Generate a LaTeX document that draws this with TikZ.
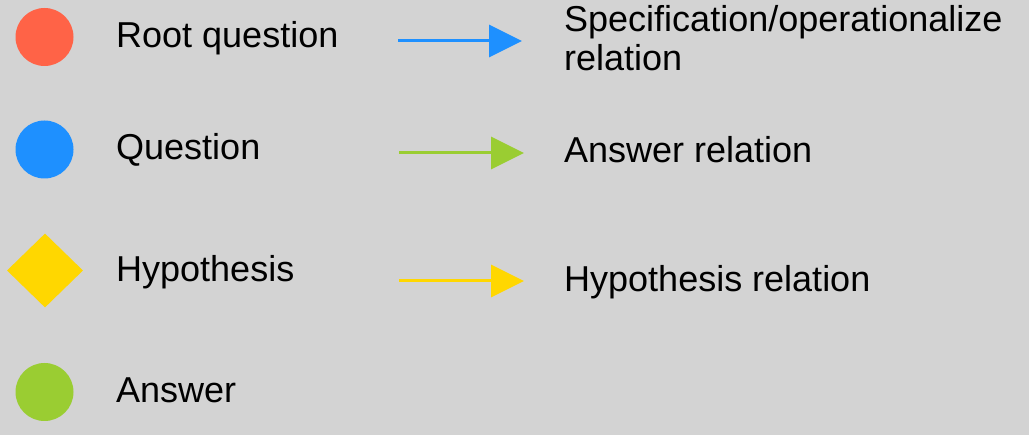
\documentclass[tikz,border=0pt]{standalone}
\usepackage{fontspec}
\setmainfont{Liberation Sans}
\usetikzlibrary{shapes.geometric,arrows.meta}
\definecolor{bg}{HTML}{D3D3D3}
\definecolor{rootc}{HTML}{FF6347}
\definecolor{qc}{HTML}{1E90FF}
\definecolor{hc}{HTML}{FFD700}
\definecolor{ac}{HTML}{9ACD32}
\tikzset{
  dot/.style={circle,minimum size=58pt,inner sep=0pt,draw=none},
  diam/.style={diamond,minimum width=76pt,minimum height=74pt,inner sep=0pt,draw=none},
  lbl/.style={anchor=base west,inner sep=0pt,font=\fontsize{36}{39}\selectfont,text=black},
  rel/.style={line width=3pt,-{Triangle[length=33pt,width=32pt]}}
}
\begin{document}
\begin{tikzpicture}[x=1pt,y=-1pt]
\fill[bg] (0,0) rectangle (1029,435);
\useasboundingbox (0,0) rectangle (1029,435);
% legend shapes
\node[dot,fill=rootc] (root) at (44.5,37) {};
\node[dot,fill=qc] (q) at (44.5,149.5) {};
\node[diam,fill=hc] (h) at (45,270.5) {};
\node[dot,fill=ac] (a) at (44.5,392) {};
\node[lbl] (troot) at (116,48) {Root question};
\node[lbl] (tq) at (116,160) {Question};
\node[lbl] (th) at (116,281.5) {Hypothesis};
\node[lbl] (ta) at (116,402.5) {Answer};
% relations
\coordinate (s1) at (398,41);  \coordinate (e1) at (522,41);
\coordinate (s2) at (399,153); \coordinate (e2) at (524,153);
\coordinate (s3) at (399,281); \coordinate (e3) at (524,281);
\draw[rel,qc] (s1) -- (e1);
\draw[rel,ac] (s2) -- (e2);
\draw[rel,hc] (s3) -- (e3);
\node[lbl,align=left] (t1) at (564,71) {Specification/operationalize\\relation};
\node[lbl] (t2) at (564,163) {Answer relation};
\node[lbl] (t3) at (564,291.5) {Hypothesis relation};
\end{tikzpicture}
\end{document}
